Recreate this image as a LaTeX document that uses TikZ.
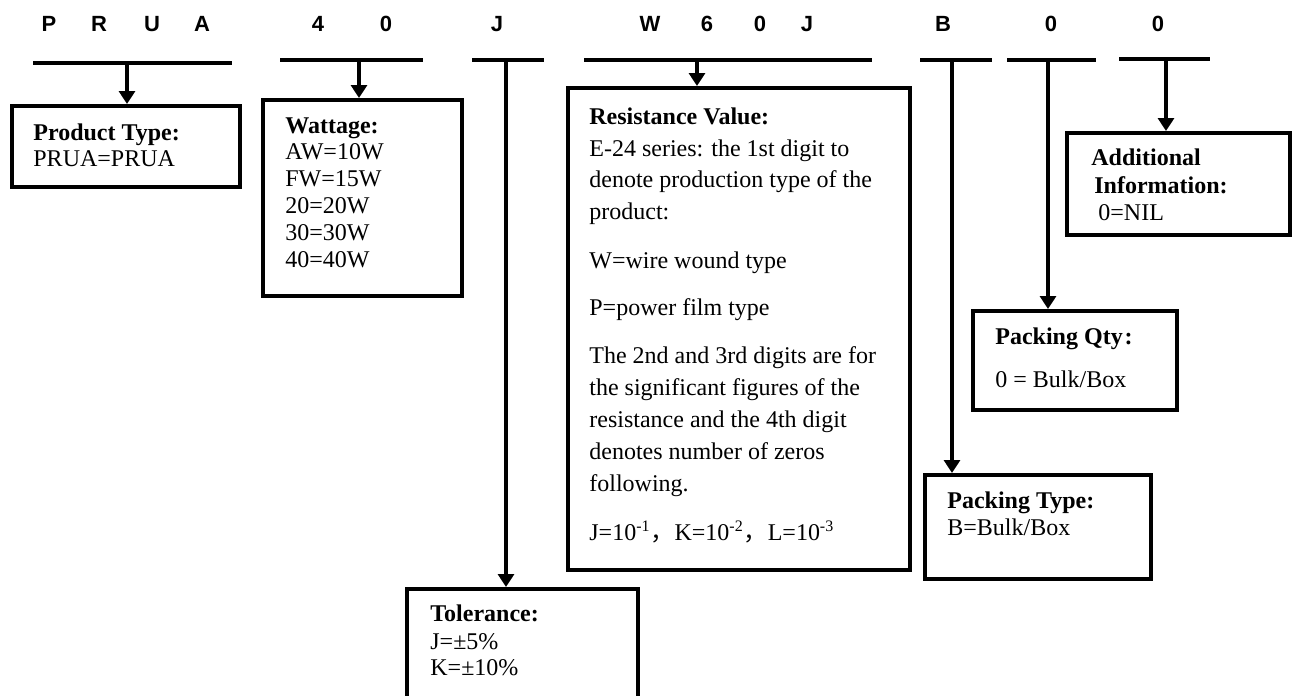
\documentclass[tikz,border=0pt]{standalone}
\usepackage{fontspec}
\setmainfont{Liberation Serif}
\newfontfamily\codefont{Liberation Sans}
\newfontfamily\cjkfont{Noto Sans CJK SC}
\usetikzlibrary{arrows.meta,fit}

\begin{document}
\begin{tikzpicture}[x=0.5pt,y=-0.5pt,
  code/.style={anchor=base,inner sep=0pt,font=\codefont\bfseries\fontsize{11}{13}\selectfont},
  bar/.style={line width=2pt},
  stem/.style={line width=1.6pt,-{Triangle[width=8pt,length=6.5pt]}},
  box/.style={draw,line width=2pt,inner sep=0pt},
  txt/.style={anchor=base west,inner sep=0pt,font=\fontsize{12}{14}\selectfont}]
\useasboundingbox (0,0) rectangle (1292,696);
% Code letters:
\node[code] (cP) at (49,32) {P};
\node[code] (cR) at (99,32) {R};
\node[code] (cU) at (152,32) {U};
\node[code] (cA) at (202,32) {A};
\node[code] (cfour) at (318,32) {4};
\node[code] (czeroa) at (386,32) {0};
\node[code] (cJa) at (497,32) {J};
\node[code] (cW) at (650,32) {W};
\node[code] (csix) at (707,32) {6};
\node[code] (czerob) at (760,32) {0};
\node[code] (cJb) at (807,32) {J};
\node[code] (cB) at (943,32) {B};
\node[code] (czeroc) at (1051,32) {0};
\node[code] (czerod) at (1158,32) {0};
% Bars under the code:
\draw[bar] (33,63) -- (232,63);
\draw[bar] (280,60) -- (423,60);
\draw[bar] (472,60) -- (544,60);
\draw[bar] (584,60) -- (872,60);
\draw[bar] (920,60) -- (992,60);
\draw[bar] (1007,60) -- (1096,60);
\draw[bar] (1119,59) -- (1210,59);
\coordinate (sptype) at (127,63);
\coordinate (swatt) at (359,60);
\coordinate (stol) at (506,60);
\coordinate (sres) at (697,60);
\coordinate (spack) at (952,60);
\coordinate (sqty) at (1048,60);
\coordinate (saddi) at (1166,59);
% Boxes:
\node[box,fit={(12,106) (240,187)}] (ptype) {};
\node[box,fit={(263,100) (462,296)}] (watt) {};
\node[box,fit={(568,88) (910,570)}] (res) {};
\node[box,fit={(407,589) (638,704)}] (tol) {};
\node[box,fit={(925,475) (1151,579)}] (pack) {};
\node[box,fit={(973,311) (1177,410)}] (qty) {};
\node[box,fit={(1067,133) (1290,235)}] (addi) {};
% Arrows:
\draw[stem] (sptype) -- (sptype |- ptype.north);
\draw[stem] (swatt) -- (swatt |- watt.north);
\draw[stem] (stol) -- (stol |- tol.north);
\draw[stem] (sres) -- (sres |- res.north);
\draw[stem] (spack) -- (spack |- pack.north);
\draw[stem] (sqty) -- (sqty |- qty.north);
\draw[stem] (saddi) -- (saddi |- addi.north);
% Texts:
\node[txt] (ptypehd) at (33,140) {\textbf{Product Type:}};
\node[txt] (ptypeval) at (33,166) {PRUA=PRUA};
\node[txt] (watthd) at (285,133) {\textbf{Wattage:}};
\node[txt] (watta) at (285,159) {AW=10W};
\node[txt] (wattb) at (285,186) {FW=15W};
\node[txt] (wattc) at (285,213) {20=20W};
\node[txt] (wattd) at (285,240) {30=30W};
\node[txt] (watte) at (285,267) {40=40W};
\node[txt] (reshd) at (589,124) {\textbf{Resistance Value:}};
\node[txt] (resa) at (589,156) {E-24 series: the 1st digit to};
\node[txt] (resb) at (589,187) {denote production type of the};
\node[txt] (resc) at (589,219) {product:};
\node[txt] (resd) at (589,268) {W=wire wound type};
\node[txt] (rese) at (589,315) {P=power film type};
\node[txt] (resf) at (589,363) {The 2nd and 3rd digits are for};
\node[txt] (resg) at (589,395) {the significant figures of the};
\node[txt] (resh) at (589,427) {resistance and the 4th digit};
\node[txt] (resi) at (589,459) {denotes number of zeros};
\node[txt] (resj) at (589,491) {following.};
\node[txt] (resk) at (589,540) {J=10\textsuperscript{-1}{\cjkfont ，}K=10\textsuperscript{-2}{\cjkfont ，}L=10\textsuperscript{-3}};
\node[txt] (tolhd) at (430,621) {\textbf{Tolerance:}};
\node[txt] (tola) at (430,649) {J=±5\%};
\node[txt] (tolb) at (430,675) {K=±10\%};
\node[txt] (qtyhd) at (995,344) {\textbf{Packing Qty\kern1pt:}};
\node[txt] (qtyval) at (995,387) {0 = Bulk/Box};
\node[txt] (packhd) at (947,508) {\textbf{Packing Type:}};
\node[txt] (packval) at (947,535) {B=Bulk/Box};
\node[txt] (addihda) at (1091,165) {\textbf{Additional}};
\node[txt] (addihdb) at (1094,193) {\textbf{Information:}};
\node[txt] (addival) at (1098,220) {0=NIL};
\end{tikzpicture}
\end{document}
